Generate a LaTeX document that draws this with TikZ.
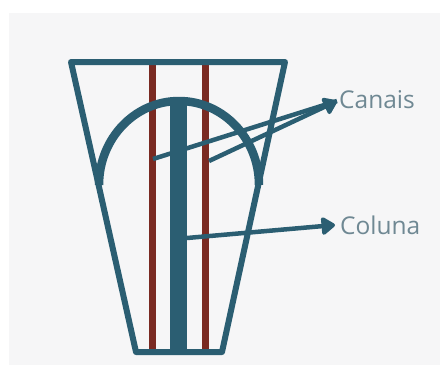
\documentclass[tikz,border=0pt]{standalone}
\usepackage{fontspec}
\setmainfont{Open Sans}
\usetikzlibrary{arrows.meta}
\definecolor{teal}{HTML}{2B5E72}
\definecolor{brick}{HTML}{7A2A22}
\definecolor{paper}{HTML}{F6F6F7}
\definecolor{labelc}{HTML}{6F8893}
\tikzset{
  frameline/.style={draw=teal,line width=6pt,line cap=round,line join=round},
  channel/.style={draw=brick,line width=7pt},
  pointer/.style={draw=teal,line width=4.5pt,-{Triangle[length=15pt,width=20pt,round]}},
  pointernohead/.style={draw=teal,line width=4.5pt},
  lab/.style={text=labelc,font=\fontsize{24.5}{26}\selectfont,inner sep=0pt,anchor=west}
}
\begin{document}
\begin{tikzpicture}[x=1pt,y=-1pt]
\useasboundingbox (0,0) rectangle (440,365);
\fill[white] (0,0) rectangle (440,365);
\fill[paper] (9,13) rectangle (440,365);
\coordinate (tl) at (71,62);
\coordinate (tr) at (285,62);
\coordinate (bl) at (136,352);
\coordinate (br) at (222,352);
\coordinate (c1t) at (152,62);
\coordinate (c1b) at (152,350);
\coordinate (c2t) at (205,62);
\coordinate (c2b) at (205,350);
\coordinate (colt) at (178.5,101);
\coordinate (colb) at (178.5,350);
\coordinate (archl) at (99,185);
\coordinate (s1) at (153,159);
\coordinate (s2) at (209,161);
\coordinate (s3) at (187,238);
\node[lab] (canais) at (339,100) {Canais};
\node[lab] (coluna) at (340,225) {Coluna};
\coordinate (t1) at (337,101);
\coordinate (t3) at (335,225);
\draw[channel] (c1t) -- (c1b);
\draw[channel] (c2t) -- (c2b);
\draw[draw=teal,line width=17pt] (colt) -- (colb);
\draw[draw=teal,line width=8.5pt] (archl) arc[start angle=180,end angle=360,x radius=80,y radius=84];
\draw[frameline] (tl) -- (tr) -- (br) -- (bl) -- cycle;
\draw[pointernohead] (s1) -- (t1);
\draw[pointer] (s2) -- (t1);
\draw[pointer] (s3) -- (t3);
\end{tikzpicture}
\end{document}
